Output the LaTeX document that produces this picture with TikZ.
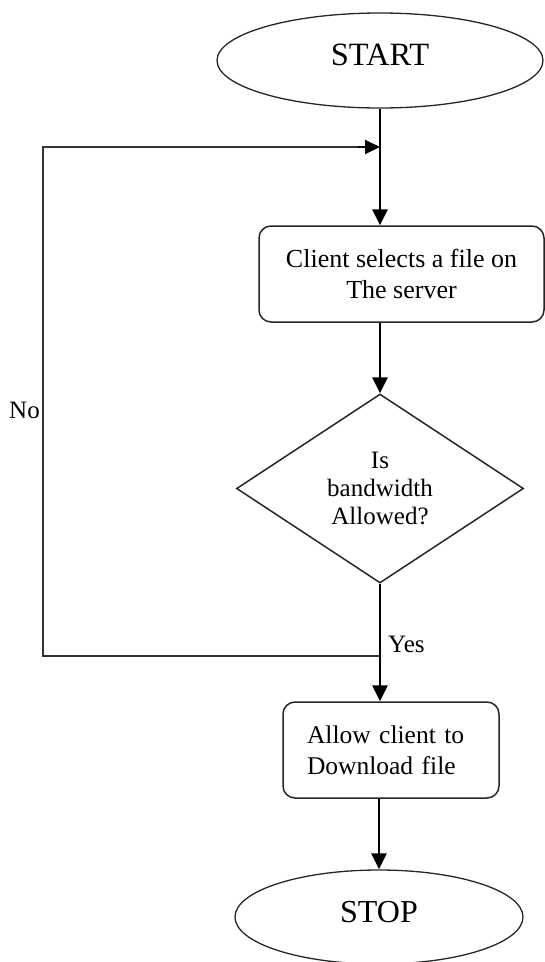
\documentclass[tikz,border=0pt]{standalone}
\usepackage{fontspec}
\setmainfont{Liberation Serif}
\usetikzlibrary{shapes.geometric,arrows.meta}

\begin{document}
\begin{tikzpicture}[x=1pt,y=-1pt,
  bodytext/.style={font=\fontsize{26}{31}\selectfont},
  terminal/.style={ellipse,draw=black!85,line width=1.3pt,inner sep=0pt,
    font=\fontsize{32.5}{38}\selectfont,text depth=11pt},
  process/.style={rectangle,rounded corners=12pt,draw=black!85,line width=1.5pt,
    align=center,inner sep=0pt,bodytext},
  decision/.style={diamond,draw=black!85,line width=1.5pt,align=center,inner sep=0pt,
    aspect=1.52,font=\fontsize{25}{28}\selectfont},
  flow/.style={line width=2.8pt,-{Triangle[length=16pt,width=15pt]}},
  loopline/.style={line width=1.6pt,draw=black!80},
  looparrow/.style={line width=1.9pt,-{Triangle[length=15pt,width=14pt]}},
  edgelabel/.style={font=\fontsize{25}{30}\selectfont,inner sep=0pt}]

\useasboundingbox (0,0) rectangle (545,962);

% terminals, steps and the decision
\node[terminal,minimum width=326pt,minimum height=95pt] (start) at (380,60.5) {START};
\node[process,minimum width=285pt,minimum height=96pt] (select) at (401.5,274) {Client selects a file on\\The server};
\node[decision,minimum width=287pt,minimum height=189pt] (decide) at (380,488.5) {Is\\bandwidth\\Allowed?};
\node[process,minimum width=216pt,minimum height=96pt,align=left,text width=168pt,
  font=\fontsize{25.5}{31}\selectfont] (allow) at (391,750) {Allow client to\\Download file};
\node[terminal,minimum width=288pt,minimum height=94pt,font=\fontsize{32}{38}\selectfont] (stop) at (379,917) {STOP};

% corners of the "No" loop
\coordinate (yesjoin) at (380,656);
\coordinate (loopbot) at (43,656);
\coordinate (looptop) at (43,147);
\coordinate (loopin) at (380,147);

% main flow
\draw[flow] (start.south) -- (start.south |- select.north);
\draw[flow] (start.south |- select.south) -- (decide.north);
\draw[flow] (decide.south) -- (decide.south |- allow.north);
\draw[flow] (stop.north |- allow.south) -- (stop.north);

% "No" branch back to the top
\draw[loopline] (yesjoin) -- (loopbot) -- (looptop) -- ([xshift=-20pt]loopin);
\draw[looparrow] ([xshift=-22pt]loopin) -- (loopin);

% branch labels
\node[edgelabel,anchor=base west] (yeslabel) at (388,652) {Yes};
\node[edgelabel,anchor=base west] (nolabel) at (9,418) {No};

\end{tikzpicture}
\end{document}
